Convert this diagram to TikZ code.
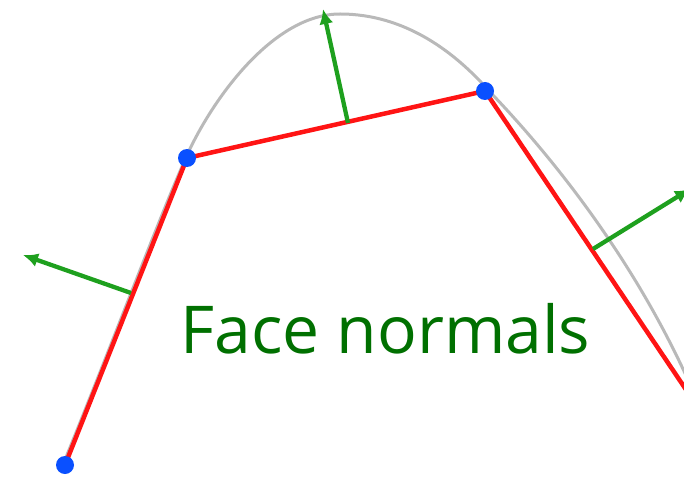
\documentclass[tikz,border=0pt]{standalone}
\usepackage{fontspec}
\setmainfont{Open Sans}
\usetikzlibrary{arrows.meta}
\definecolor{segred}{RGB}{255,20,20}
\definecolor{nrmgreen}{RGB}{30,160,30}
\definecolor{txtgreen}{RGB}{0,112,0}
\definecolor{dotblue}{RGB}{10,80,255}
\definecolor{curvegray}{RGB}{185,185,185}
\tikzset{
  segment/.style={draw=segred, line width=4.5pt},
  normal/.style={draw=nrmgreen, line width=4.3pt, -{Latex[length=15pt,width=14pt]}},
  vertex/.style={circle, fill=dotblue, inner sep=0pt, minimum size=18pt},
  curve/.style={draw=curvegray, line width=3pt},
}
\begin{document}
\begin{tikzpicture}[x=1pt,y=-1pt]
\useasboundingbox (0,0) rectangle (684,481);
\clip (0,0) rectangle (684,481);
\coordinate (c0) at (60,472);
\coordinate (cb) at (188,153);
\coordinate (cp) at (340,14);
\coordinate (cc) at (490,92);
\coordinate (ce) at (705,420);
\draw[curve] (c0) .. controls (110,350) and (160,215) .. (cb)
  .. controls (215,95) and (275,14) .. (cp)
  .. controls (405,14) and (455,52) .. (cc)
  .. controls (560,165) and (650,280) .. (ce);
\coordinate (A) at (65,465);
\coordinate (B) at (187,158);
\coordinate (C) at (485,91);
\coordinate (D) at (730,455);
\draw[segment] (A) -- (B) -- (C) -- (D);
\coordinate (n1) at (131,293);
\coordinate (n1t) at (23,255);
\coordinate (n2) at (348,123);
\coordinate (n2t) at (323,9);
\coordinate (n3) at (593,249);
\coordinate (n3t) at (690,189);
\draw[normal] (n1) -- (n1t);
\draw[normal] (n2) -- (n2t);
\draw[normal] (n3) -- (n3t);
\node[vertex] (va) at (A) {};
\node[vertex] (vb) at (B) {};
\node[vertex] (vc) at (C) {};
\node[text=txtgreen, font=\fontsize{66}{76}\selectfont, anchor=base, inner sep=0pt] (label) at (385.5,353) {Face normals};
\end{tikzpicture}
\end{document}
